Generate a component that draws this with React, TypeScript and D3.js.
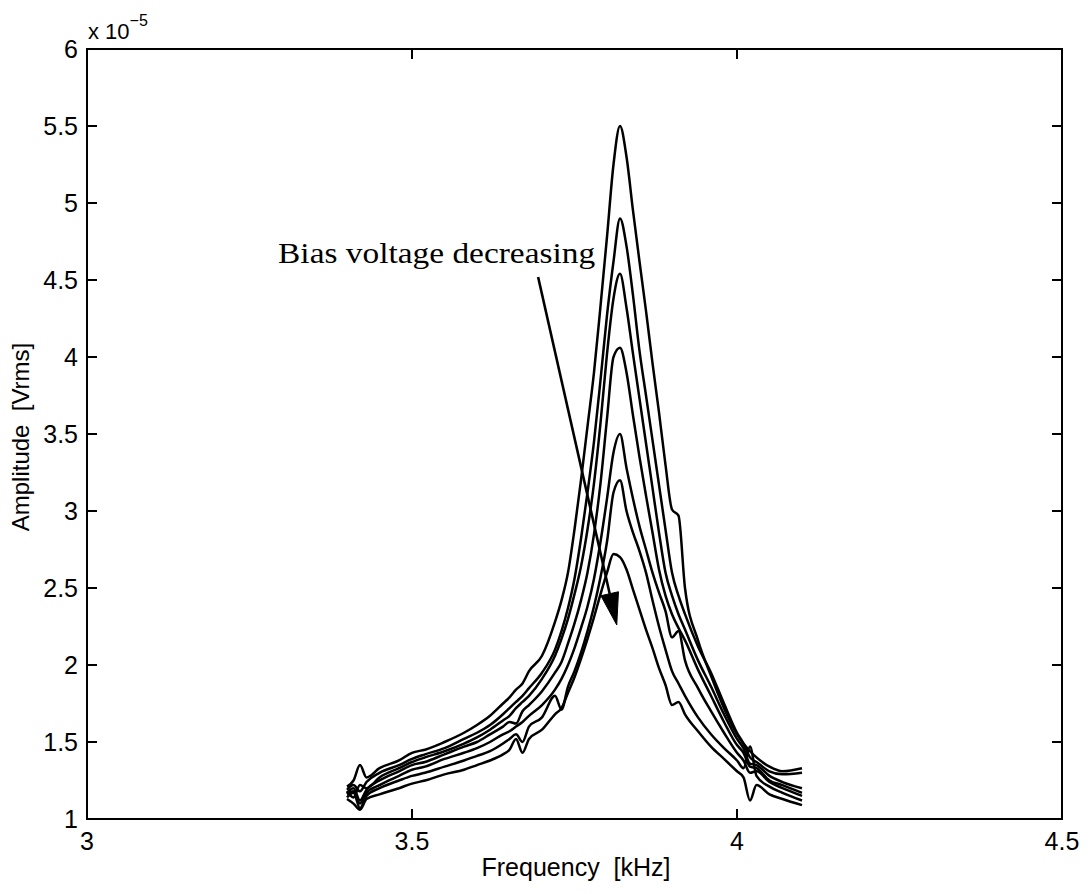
import React from "react";
import * as d3 from "d3";

// Frequency grid (kHz)
const freqs = [3.40, 3.41, 3.42, 3.43, 3.45, 3.48, 3.50, 3.52, 3.55, 3.58, 3.60, 3.62, 3.64, 3.65, 3.66, 3.67, 3.68, 3.70, 3.72, 3.73, 3.74, 3.75, 3.76, 3.77, 3.78, 3.79, 3.80, 3.81, 3.82, 3.83, 3.84, 3.85, 3.86, 3.87, 3.88, 3.89, 3.90, 3.91, 3.92, 3.94, 3.96, 3.98, 4.00, 4.01, 4.02, 4.03, 4.05, 4.07, 4.10];

// Amplitude (x 1e-5 Vrms), bias voltage decreasing from c1 to c7
const c1 = [1.21, 1.25, 1.35, 1.27, 1.33, 1.38, 1.43, 1.45, 1.50, 1.56, 1.61, 1.67, 1.75, 1.79, 1.84, 1.88, 1.96, 2.06, 2.28, 2.42, 2.60, 2.88, 3.20, 3.55, 3.90, 4.33, 4.78, 5.25, 5.50, 5.30, 4.95, 4.62, 4.30, 3.96, 3.64, 3.30, 3.01, 2.97, 2.50, 2.16, 1.93, 1.72, 1.55, 1.49, 1.44, 1.40, 1.34, 1.31, 1.33];
const c2 = [1.19, 1.22, 1.18, 1.24, 1.30, 1.35, 1.39, 1.42, 1.46, 1.52, 1.56, 1.61, 1.68, 1.72, 1.76, 1.80, 1.85, 1.95, 2.10, 2.22, 2.37, 2.56, 2.82, 3.12, 3.45, 3.85, 4.27, 4.62, 4.90, 4.72, 4.40, 4.04, 3.75, 3.46, 3.17, 2.88, 2.60, 2.45, 2.33, 2.12, 1.95, 1.75, 1.56, 1.49, 1.40, 1.37, 1.31, 1.29, 1.30];
const c3 = [1.18, 1.14, 1.22, 1.20, 1.27, 1.33, 1.37, 1.40, 1.44, 1.49, 1.53, 1.58, 1.64, 1.67, 1.72, 1.76, 1.80, 1.91, 2.06, 2.17, 2.30, 2.46, 2.64, 2.88, 3.18, 3.57, 4.02, 4.38, 4.54, 4.32, 4.02, 3.73, 3.44, 3.15, 2.86, 2.60, 2.45, 2.33, 2.23, 2.03, 1.86, 1.68, 1.52, 1.46, 1.36, 1.35, 1.28, 1.24, 1.20];
const c4 = [1.17, 1.20, 1.12, 1.19, 1.25, 1.31, 1.35, 1.37, 1.42, 1.47, 1.50, 1.55, 1.60, 1.63, 1.62, 1.70, 1.74, 1.83, 1.95, 2.02, 2.14, 2.27, 2.42, 2.60, 2.85, 3.18, 3.60, 4.00, 4.06, 3.90, 3.62, 3.35, 3.10, 2.86, 2.62, 2.45, 2.33, 2.24, 2.16, 1.97, 1.80, 1.63, 1.48, 1.43, 1.34, 1.33, 1.25, 1.22, 1.17];
const c5 = [1.16, 1.18, 1.10, 1.17, 1.22, 1.28, 1.32, 1.34, 1.39, 1.43, 1.46, 1.50, 1.55, 1.57, 1.60, 1.63, 1.67, 1.74, 1.84, 1.91, 2.00, 2.11, 2.24, 2.38, 2.56, 2.80, 3.08, 3.38, 3.50, 3.28, 3.08, 2.90, 2.75, 2.60, 2.47, 2.35, 2.18, 2.22, 2.03, 1.85, 1.70, 1.56, 1.43, 1.38, 1.30, 1.31, 1.24, 1.20, 1.15];
const c6 = [1.14, 1.17, 1.07, 1.15, 1.20, 1.25, 1.28, 1.30, 1.34, 1.38, 1.41, 1.44, 1.49, 1.52, 1.55, 1.50, 1.60, 1.66, 1.80, 1.71, 1.86, 1.96, 2.08, 2.22, 2.38, 2.57, 2.80, 3.12, 3.20, 3.00, 2.86, 2.74, 2.60, 2.42, 2.25, 2.10, 1.96, 1.88, 1.80, 1.66, 1.55, 1.46, 1.38, 1.33, 1.47, 1.28, 1.21, 1.17, 1.12];
const c7 = [1.13, 1.10, 1.06, 1.13, 1.16, 1.20, 1.23, 1.25, 1.29, 1.32, 1.35, 1.38, 1.42, 1.45, 1.52, 1.43, 1.52, 1.58, 1.68, 1.72, 1.82, 1.92, 2.04, 2.17, 2.31, 2.46, 2.60, 2.72, 2.70, 2.62, 2.49, 2.36, 2.23, 2.11, 1.98, 1.87, 1.74, 1.76, 1.68, 1.57, 1.47, 1.39, 1.31, 1.27, 1.12, 1.22, 1.16, 1.13, 1.09];

const series = [c1, c2, c3, c4, c5, c6, c7];

const xTicks = [3, 3.5, 4, 4.5];
const xTickLabels = ["3", "3.5", "4", "4.5"];
const yTicks = [1, 1.5, 2, 2.5, 3, 3.5, 4, 4.5, 5, 5.5, 6];
const yTickLabels = ["1", "1.5", "2", "2.5", "3", "3.5", "4", "4.5", "5", "5.5", "6"];

const annotationText = "Bias voltage decreasing";
const annotationPos = [3.294, 4.61]; // kHz, amplitude
const arrowStart = [3.694, 4.52];
const arrowEnd = [3.815, 2.26];

export default function App() {
  const W = 1090;
  const H = 894;
  const left = 87, right = 1062, top = 49, bottom = 819;
  const x = d3.scaleLinear().domain([3, 4.5]).range([left, right]);
  const y = d3.scaleLinear().domain([1, 6]).range([bottom, top]);

  const line = d3
    .line<number>()
    .x((_, i) => x(freqs[i]))
    .y((d) => y(d))
    .curve(d3.curveMonotoneX);

  const sans = "'Liberation Sans', Arial, Helvetica, sans-serif";
  const serif = "'Liberation Serif', 'Times New Roman', serif";

  // arrow geometry
  const ax0 = x(arrowStart[0]), ay0 = y(arrowStart[1]);
  const ax1 = x(arrowEnd[0]), ay1 = y(arrowEnd[1]);
  const ang = Math.atan2(ay1 - ay0, ax1 - ax0);
  const headLen = 32, headHalf = 9;
  const bx = ax1 - headLen * Math.cos(ang);
  const by = ay1 - headLen * Math.sin(ang);
  const px = -Math.sin(ang), py = Math.cos(ang);
  const head = `M${ax1},${ay1} L${bx + headHalf * px},${by + headHalf * py} L${bx - headHalf * px},${by - headHalf * py} Z`;

  return (
    <svg
      width={W}
      height={H}
      style={{ position: "absolute", left: 0, top: 0, background: "#fff" }}
    >
      <rect x={0} y={0} width={W} height={H} fill="#fff" />
      {/* curves */}
      <g fill="none" stroke="#000" strokeWidth={2.5} strokeLinejoin="round">
        {series.map((s, i) => (
          <path key={i} d={line(s) || ""} />
        ))}
      </g>
      {/* frame */}
      <rect
        x={left}
        y={top}
        width={right - left}
        height={bottom - top}
        fill="none"
        stroke="#000"
        strokeWidth={2}
      />
      {/* ticks */}
      <g stroke="#000" strokeWidth={2}>
        {xTicks.map((t) => (
          <g key={"x" + t}>
            <line x1={x(t)} x2={x(t)} y1={bottom} y2={bottom - 10} />
            <line x1={x(t)} x2={x(t)} y1={top} y2={top + 10} />
          </g>
        ))}
        {yTicks.map((t) => (
          <g key={"y" + t}>
            <line x1={left} x2={left + 10} y1={y(t)} y2={y(t)} />
            <line x1={right} x2={right - 10} y1={y(t)} y2={y(t)} />
          </g>
        ))}
      </g>
      {/* tick labels */}
      <g fontFamily={sans} fontSize={25} fill="#000">
        {xTicks.map((t, i) => (
          <text key={"xl" + t} x={x(t)} y={bottom + 31} textAnchor="middle">
            {xTickLabels[i]}
          </text>
        ))}
        {yTicks.map((t, i) => (
          <text key={"yl" + t} x={left - 9} y={y(t) + 9} textAnchor="end">
            {yTickLabels[i]}
          </text>
        ))}
      </g>
      {/* exponent */}
      <text x={left + 1} y={39} fontFamily={sans} fontSize={22} fill="#000">
        x 10
        <tspan dy={-13} fontSize={16}>−5</tspan>
      </text>
      {/* axis labels */}
      <text
        x={576}
        y={876}
        textAnchor="middle"
        fontFamily={sans}
        fontSize={25}
        fill="#000"
        style={{ whiteSpace: "pre" }}
      >
        {"Frequency  [kHz]"}
      </text>
      <text
        transform={`translate(29, ${437}) rotate(-90)`}
        textAnchor="middle"
        fontFamily={sans}
        fontSize={24}
        fill="#000"
        style={{ whiteSpace: "pre" }}
      >
        {"Amplitude  [Vrms]"}
      </text>
      {/* annotation */}
      <text
        x={x(annotationPos[0])}
        y={y(annotationPos[1])}
        fontFamily={serif}
        fontSize={29}
        fill="#000"
        textLength={317}
        lengthAdjust="spacingAndGlyphs"
      >
        {annotationText}
      </text>
      <line x1={ax0} y1={ay0} x2={bx} y2={by} stroke="#000" strokeWidth={2.6} />
      <path d={head} fill="#000" stroke="#000" strokeWidth={1} />
    </svg>
  );
}
